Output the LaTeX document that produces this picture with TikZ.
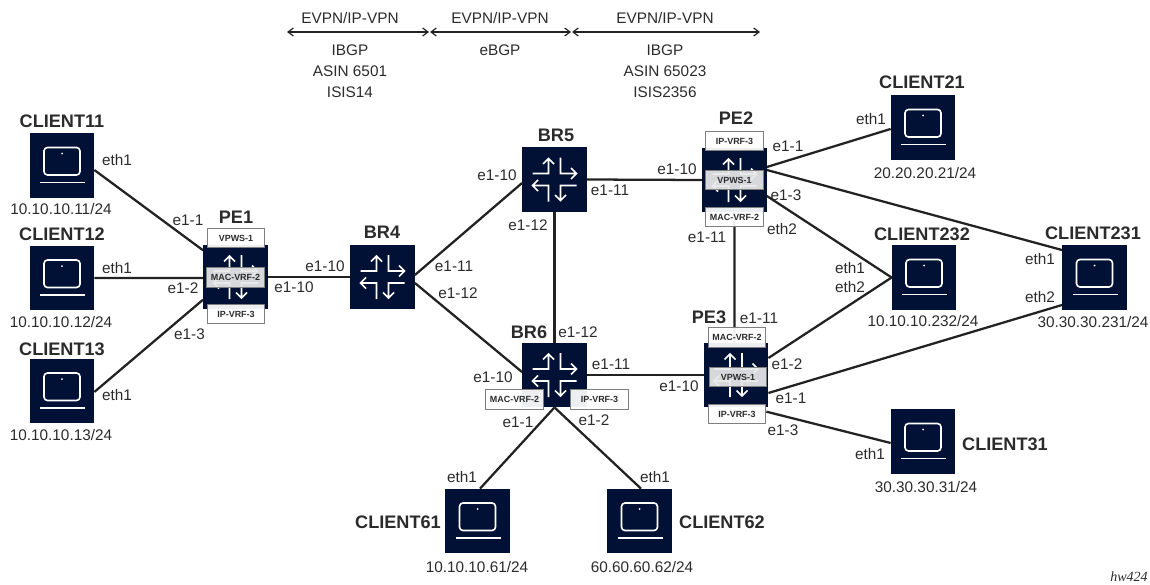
\documentclass[tikz,border=0pt]{standalone}
\usepackage{fontspec}
\setmainfont{Liberation Sans}
\newfontfamily\hwfont{Liberation Serif}
\usetikzlibrary{arrows.meta}
\definecolor{navy}{HTML}{001135}
\definecolor{linkc}{HTML}{222222}
\definecolor{txtc}{HTML}{2B2B2B}
\definecolor{boxb}{HTML}{7F7F7F}
\definecolor{midb}{HTML}{E8E8E8}
\tikzset{
  tile/.style={fill=navy,draw=none,minimum width=48.6pt,minimum height=48.6pt,inner sep=0pt,outer sep=0pt},
  link/.style={draw=linkc,line width=1.7pt},
  lbl/.style={font=\fontsize{11.5}{12}\selectfont,text=txtc,inner sep=0pt},
  ttl/.style={font=\fontsize{13.6}{14}\selectfont\bfseries,text=txtc,inner sep=0pt},
  vrf/.style={fill=white,fill opacity=.93,text opacity=1,draw=boxb,line width=.8pt,minimum width=43pt,minimum height=14.6pt,inner sep=0pt,font=\fontsize{6.7}{7}\selectfont\bfseries,text=txtc},
  mid/.style={vrf,fill=midb,fill opacity=.93},
  span/.style={draw=linkc,line width=.9pt,{Straight Barb[length=4pt,width=6pt]}-{Straight Barb[length=4pt,width=6pt]}},
  glyph/.style={draw=white,line width=1.3pt},
  router/.pic={
    \draw[glyph] (-22,-6)--(-6,-6)--(-6,-21) (-11.5,-15.5)--(-6,-21)--(-.5,-15.5);
    \draw[glyph] (6,-22)--(6,-6)--(22,-6) (16.5,-11.5)--(22,-6)--(16.5,-.5);
    \draw[glyph] (-6,22)--(-6,6)--(-22,6) (-16.5,.5)--(-22,6)--(-16.5,11.5);
    \draw[glyph] (22,6)--(6,6)--(6,21) (.5,15.5)--(6,21)--(11.5,15.5);
  },
  laptop/.pic={
    \draw[draw=white,line width=1.2pt,rounded corners=2.6pt] (-18,-18) rectangle (18,9.5);
    \fill[white] (0,-12) circle (1);
    \draw[draw=white,line width=1.2pt] (-22,17)--(23,17);
  }
}
\begin{document}
\begin{tikzpicture}[x=.75pt,y=-.75pt]
\useasboundingbox (0,0) rectangle (1150,585);
% tiles
\node[tile] (c11) at (62,165.5) {};
\node[tile] (c12) at (62,278) {};
\node[tile] (c13) at (62,391) {};
\node[tile] (pe1) at (235.5,277) {};
\node[tile] (br4) at (382.5,277) {};
\node[tile] (br5) at (554.5,179.5) {};
\node[tile] (br6) at (554.5,375) {};
\node[tile] (pe2) at (734.5,180) {};
\node[tile] (pe3) at (736,375) {};
\node[tile] (c21) at (923,127.5) {};
\node[tile] (c232) at (924,277.5) {};
\node[tile] (c231) at (1094.5,277.5) {};
\node[tile] (c31) at (923,441.5) {};
\node[tile] (c61) at (477.5,521) {};
\node[tile] (c62) at (639.5,521) {};
% links
\begin{scope}[every path/.style={link}]
\draw ([yshift=-3.4pt]c11.east) -- ([yshift=20pt]pe1.west);
\draw (c12.east) -- ([yshift=-.7pt]pe1.west);
\draw ([yshift=-.7pt]c13.east) -- ([yshift=-17pt]pe1.west);
\draw (pe1.east) -- (br4.west);
\draw ([yshift=1.5pt]br4.east) -- ([yshift=-2.6pt]br5.west);
\draw ([yshift=-4.5pt]br4.east) -- ([yshift=2.2pt]br6.west);
\draw (br5.south) -- (br6.north);
\draw (br5.east) -- (pe2.west);
\draw (br6.east) -- (pe3.west);
\draw (pe2.south) -- ([xshift=-1.1pt]pe3.north);
\draw ([yshift=9.75pt]pe2.east) -- ([yshift=-1.1pt]c21.west);
\draw ([yshift=7.5pt]pe2.east) -- ([yshift=20.6pt]c231.west);
\draw ([yshift=-12pt]pe2.east) -- (c232.west);
\draw ([yshift=12.75pt]pe3.east) -- (c232.west);
\draw ([yshift=-13.5pt]pe3.east) -- ([yshift=-20.6pt]c231.west);
\draw ([xshift=-1.5pt,yshift=-27.5pt]pe3.east) -- ([yshift=-1.1pt]c31.west);
\draw (br6.south) -- ([xshift=1.9pt]c61.north);
\draw (br6.south) -- ([xshift=1.1pt]c62.north);
\end{scope}
% icons
\pic at (br4) {router};
\pic at (br5) {router};
\pic at (br6) {router};
\pic at (pe1) {router};
\pic at (pe2) {router};
\pic at (pe3) {router};
\pic at (c11) {laptop};
\pic at (c12) {laptop};
\pic at (c13) {laptop};
\pic at (c21) {laptop};
\pic at (c232) {laptop};
\pic at (c231) {laptop};
\pic at (c31) {laptop};
\pic at (c61) {laptop};
\pic at (c62) {laptop};
% service boxes
\node[vrf] (pe1a) at (236,238) {VPWS-1};
\node[mid] (pe1b) at (235.5,277.5) {MAC-VRF-2};
\node[vrf] (pe1c) at (236,314) {IP-VRF-3};
\node[vrf] (pe2a) at (734.5,141) {IP-VRF-3};
\node[mid] (pe2b) at (734.5,180) {VPWS-1};
\node[vrf] (pe2c) at (734.5,217) {MAC-VRF-2};
\node[vrf] (pe3a) at (737,337.5) {MAC-VRF-2};
\node[mid] (pe3b) at (738,377) {VPWS-1};
\node[vrf] (pe3c) at (737,414) {IP-VRF-3};
\node[vrf] (br6a) at (514.5,399.5) {MAC-VRF-2};
\node[vrf] (br6b) at (599.5,399.5) {IP-VRF-3};
% span arrows
\coordinate (s0) at (287,32);
\coordinate (s1) at (429,32);
\coordinate (s1b) at (430,32);
\coordinate (s2) at (571,32);
\coordinate (s2b) at (572,32);
\coordinate (s3) at (760,32);
\draw[span] (s0) -- (s1);
\draw[span] (s1b) -- (s2);
\draw[span] (s2b) -- (s3);
\node[lbl] (t1) at (350,18) {EVPN/IP-VPN};
\node[lbl] (t2) at (500,18) {EVPN/IP-VPN};
\node[lbl] (t3) at (665,18) {EVPN/IP-VPN};
\node[lbl] (t1a) at (350,50) {IBGP};
\node[lbl] (t1b) at (350,71) {ASIN 6501};
\node[lbl] (t1c) at (350,92) {ISIS14};
\node[lbl] (t2a) at (500,50) {eBGP};
\node[lbl] (t3a) at (665,50) {IBGP};
\node[lbl] (t3b) at (665,71) {ASIN 65023};
\node[lbl] (t3c) at (665,92) {ISIS2356};
% titles
\node[ttl] (n1) at (62,121) {CLIENT11};
\node[ttl] (n2) at (62,234) {CLIENT12};
\node[ttl] (n3) at (62,349) {CLIENT13};
\node[ttl] (n4) at (236,217) {PE1};
\node[ttl] (n5) at (382,232) {BR4};
\node[ttl] (n6) at (556,135) {BR5};
\node[ttl] (n7) at (529,332) {BR6};
\node[ttl] (n8) at (736,118) {PE2};
\node[ttl] (n9) at (709,317) {PE3};
\node[ttl] (n10) at (922,82) {CLIENT21};
\node[ttl] (n11) at (922,234) {CLIENT232};
\node[ttl] (n12) at (1093,233) {CLIENT231};
\node[ttl] (n13) at (1005,444) {CLIENT31};
\node[ttl] (n14) at (398,522) {CLIENT61};
\node[ttl] (n15) at (722,522) {CLIENT62};
% addresses
\node[lbl] (a1) at (61,209) {10.10.10.11/24};
\node[lbl] (a2) at (61,322) {10.10.10.12/24};
\node[lbl] (a3) at (61,435) {10.10.10.13/24};
\node[lbl] (a4) at (925,173) {20.20.20.21/24};
\node[lbl] (a5) at (923,321) {10.10.10.232/24};
\node[lbl] (a6) at (1093,322) {30.30.30.231/24};
\node[lbl] (a7) at (926,487) {30.30.30.31/24};
\node[lbl] (a8) at (477,567) {10.10.10.61/24};
\node[lbl] (a9) at (642,567) {60.60.60.62/24};
% port labels
\node[lbl] (p1) at (117,160) {eth1};
\node[lbl] (p2) at (117,268) {eth1};
\node[lbl] (p3) at (117,395) {eth1};
\node[lbl] (p4) at (188,220) {e1-1};
\node[lbl] (p5) at (183,288) {e1-2};
\node[lbl] (p6) at (189.5,334) {e1-3};
\node[lbl] (p7) at (294,287) {e1-10};
\node[lbl] (p8) at (325,266) {e1-10};
\node[lbl] (p9) at (454,266) {e1-11};
\node[lbl] (p10) at (458,293) {e1-12};
\node[lbl] (p11) at (497,175) {e1-10};
\node[lbl] (p12) at (610,190) {e1-11};
\node[lbl] (p13) at (528,225) {e1-12};
\node[lbl] (p14) at (578,332) {e1-12};
\node[lbl] (p15) at (611,364) {e1-11};
\node[lbl] (p16) at (493,377) {e1-10};
\node[lbl] (p17) at (518,422) {e1-1};
\node[lbl] (p18) at (594,420) {e1-2};
\node[lbl] (p19) at (462,477) {eth1};
\node[lbl] (p20) at (655,477) {eth1};
\node[lbl] (p21) at (677,169) {e1-10};
\node[lbl] (p22) at (788,146) {e1-1};
\node[lbl] (p23) at (786,195) {e1-3};
\node[lbl] (p24) at (782,229) {eth2};
\node[lbl] (p25) at (707,237) {e1-11};
\node[lbl] (p26) at (871,119) {eth1};
\node[lbl] (p27) at (850,268) {eth1};
\node[lbl] (p28) at (850,287) {eth2};
\node[lbl] (p29) at (1040,259) {eth1};
\node[lbl] (p30) at (1040,297) {eth2};
\node[lbl] (p31) at (759,318) {e1-11};
\node[lbl] (p32) at (679,386) {e1-10};
\node[lbl] (p33) at (787,364) {e1-2};
\node[lbl] (p34) at (791,398) {e1-1};
\node[lbl] (p35) at (783,430) {e1-3};
\node[lbl] (p36) at (870,454) {eth1};
\node[font=\hwfont\itshape\fontsize{10.5}{11}\selectfont,text=txtc,inner sep=0pt] (hw) at (1129,577) {hw424};
\end{tikzpicture}
\end{document}
